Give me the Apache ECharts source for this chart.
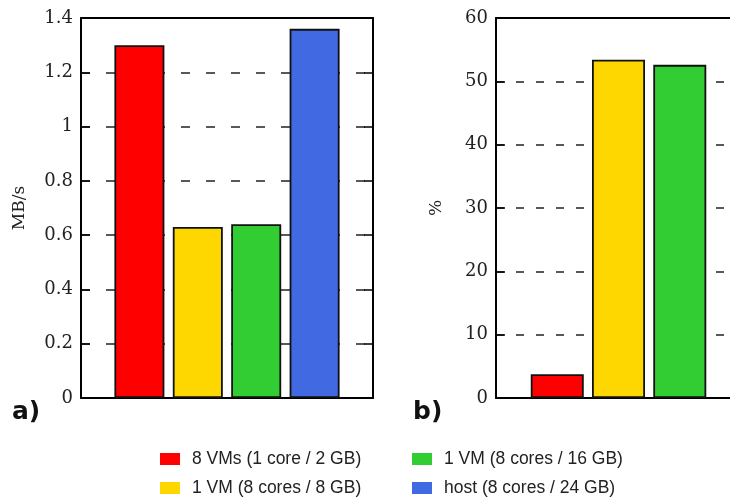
<!DOCTYPE html>
<html>
<head>
<meta charset="utf-8">
<script src="https://cdn.jsdelivr.net/npm/echarts@6/dist/echarts.min.js"></script>
<style>
  html, body { margin: 0; padding: 0; background: #fff; }
  #chart { width: 730px; height: 498px; }
</style>
</head>
<body>
<div id="chart"></div>
<script>
// configurations (legend / bars)
var configs = [ '8 VMs (1 core / 2 GB)', '1 VM (8 cores / 8 GB)', '1 VM (8 cores / 16 GB)', 'host (8 cores / 24 GB)' ];
var colors = [ '#ff0000', '#ffd700', '#32cd32', '#4169e1' ];
// a) throughput, MB/s
var throughput = [ 1.30, 0.63, 0.64, 1.36 ];
// b) cpu usage, %
var cpuUsage = [ 3.75, 53.4, 52.6 ];
var mbTicks = [ 0, 0.2, 0.4, 0.6, 0.8, 1, 1.2, 1.4 ];
var pctTicks = [ 0, 10, 20, 30, 40, 50, 60 ];

var serif = 'DejaVu Serif';
var sans = 'Liberation Sans';

// bar i sits at x = i + 1, all series drawn in the same slot
function makeSeries( values, gridIdx, width ) {
  return values.map( function( v, i ) {
    return {
      name: configs[ i ],
      type: 'bar',
      xAxisIndex: gridIdx * 2,
      yAxisIndex: gridIdx * 2,
      barWidth: width,
      barGap: '-100%',
      itemStyle: { color: colors[ i ], borderColor: '#111', borderWidth: 1.8 },
      data: [ [ i + 1, v ] ]
    };
  } );
}

// left axis with labels + mirrored right axis (hidden when the panel is cut off)
function yAxes( gridIdx, ticks, name, nameGap, dash, showRight ) {
  var min = ticks[ 0 ], max = ticks[ ticks.length - 1 ], step = ticks[ 1 ] - ticks[ 0 ];
  return [ {
    type: 'value', gridIndex: gridIdx, position: 'left', min: min, max: max, interval: step,
    name: name, nameLocation: 'middle', nameGap: nameGap,
    nameTextStyle: { fontFamily: serif, fontSize: 17, color: '#222' },
    axisLine: { show: true, onZero: false, lineStyle: { color: '#000', width: 2 } },
    axisTick: { show: true, inside: true, length: 9, lineStyle: { color: '#000', width: 1.5 } },
    axisLabel: { fontFamily: serif, fontSize: 18, color: '#222', margin: 8 },
    splitLine: { show: true, lineStyle: { color: '#222', width: 1.5, type: dash } }
  }, {
    type: 'value', gridIndex: gridIdx, position: 'right', min: min, max: max, interval: step,
    axisLine: { show: showRight, onZero: false, lineStyle: { color: '#000', width: 2 } },
    axisTick: { show: showRight, inside: true, length: 9, lineStyle: { color: '#000', width: 1.5 } },
    axisLabel: { show: false },
    splitLine: { show: false }
  } ];
}

// bottom + top frame axes; max < slots means the panel is cut by the page edge
function xAxes( gridIdx, max ) {
  var base = {
    type: 'value', gridIndex: gridIdx, min: 0, max: max,
    axisLine: { show: true, onZero: false, lineStyle: { color: '#000', width: 2 } },
    axisTick: { show: false },
    axisLabel: { show: false },
    splitLine: { show: false }
  };
  return [ Object.assign( { position: 'bottom' }, base ), Object.assign( { position: 'top' }, base ) ];
}

// one legend per entry, 2 x 2 layout
var legendPos = [ [ 155, 445 ], [ 155, 474 ], [ 407, 445 ], [ 407, 474 ] ];
var legends = configs.map( function( name, i ) {
  return {
    left: legendPos[ i ][ 0 ], top: legendPos[ i ][ 1 ], itemWidth: 20, itemHeight: 12,
    icon: 'rect', itemStyle: { borderWidth: 0 }, selectedMode: false,
    textStyle: { fontFamily: sans, fontSize: 17.5, color: '#222', padding: [ 0, 0, 0, 7 ] },
    data: [ name ]
  };
} );

var chart = echarts.init( document.getElementById( 'chart' ) );
chart.setOption( {
  animation: false,
  backgroundColor: '#fff',
  textStyle: { fontFamily: serif },
  grid: [
    { left: 81, width: 292, top: 18, bottom: 100 },
    { left: 496, right: 0, top: 18, bottom: 100 }
  ],
  xAxis: xAxes( 0, throughput.length + 1 ).concat( xAxes( 1, 3.82 ) ),
  yAxis: yAxes( 0, mbTicks, 'MB/s', 53, [ 9, 16 ], true ).concat( yAxes( 1, pctTicks, '%', 51, [ 8, 12 ], false ) ),
  legend: legends,
  graphic: [
    { type: 'text', left: 12, top: 400, style: { text: 'a)', font: 'bold 25px "DejaVu Sans"', fill: '#111' } },
    { type: 'text', left: 413, top: 400, style: { text: 'b)', font: 'bold 25px "DejaVu Sans"', fill: '#111' } }
  ],
  series: makeSeries( throughput, 0, 50 ).concat( makeSeries( cpuUsage, 1, 53 ) )
} );
</script>
</body>
</html>
